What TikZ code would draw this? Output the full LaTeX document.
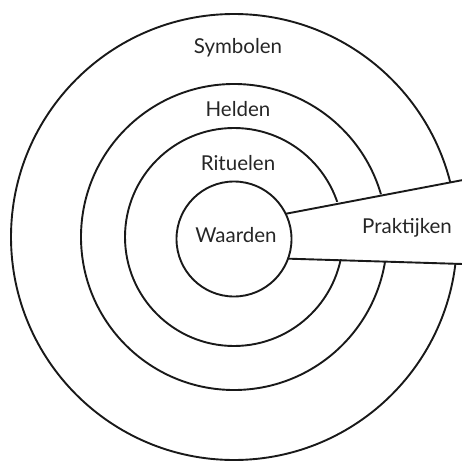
\documentclass[tikz,border=0pt]{standalone}
\usepackage{fontspec}
\setmainfont{Lato}
\usetikzlibrary{calc}
\begin{document}
\begin{tikzpicture}[x=1pt,y=-1pt,
  ring/.style={circle,draw=black!90,line width=1.9pt,inner sep=0pt,outer sep=0pt},
  bandline/.style={draw=black!90,line width=1.9pt},
  lbl/.style={font=\fontsize{20.5}{24}\selectfont,text=black!85,inner sep=0pt}]
\useasboundingbox (0,0) rectangle (461,462);
\coordinate (c) at (234,237);
\node[ring,minimum size=446pt] (c1) at (c) {};
\node[ring,minimum size=306pt] (c2) at (c) {};
\node[ring,minimum size=218pt] (c3) at (c) {};
\coordinate (ul) at (463,180);
\coordinate (ll) at (463,264);
\fill[white] (c) -- ($(c)+(26.6:58pt)$) -- (ul) -- (ll) -- ($(c)+(-20:59pt)$) -- cycle;
\node[ring,minimum size=115pt] (w) at (234,239) {};
\draw[bandline] (w.26.6) -- (ul);
\draw[bandline] (w.-20) -- (ll);
\node[lbl] (sym) at (238,48) {Symbolen};
\node[lbl] (hel) at (238,109) {Helden};
\node[lbl] (rit) at (238,163) {Rituelen};
\node[lbl] (waa) at (236,235) {Waarden};
\node[lbl] (pra) at (407,228) {Praktijken};
\end{tikzpicture}
\end{document}
